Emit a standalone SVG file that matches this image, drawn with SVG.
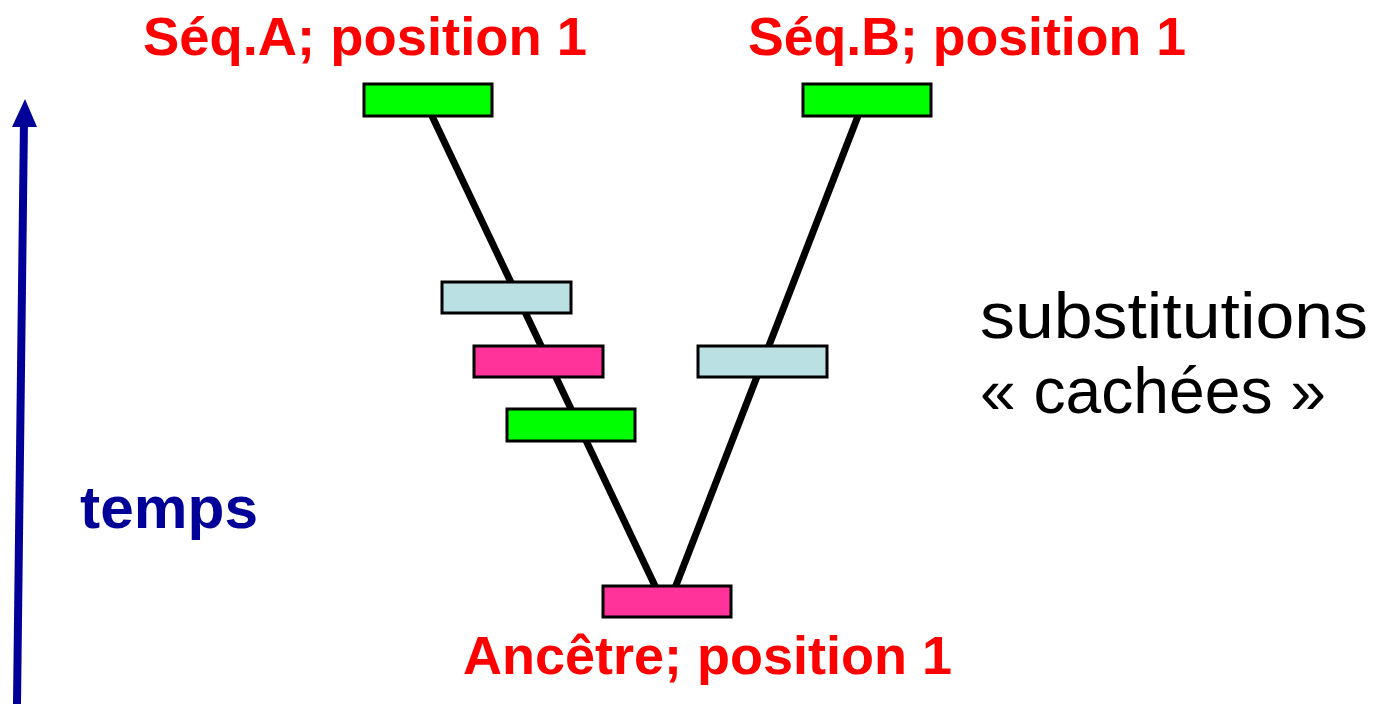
<svg xmlns="http://www.w3.org/2000/svg" width="1379" height="704" viewBox="0 0 1379 704">
<style>
.box{stroke:#000;stroke-width:3}
.g{fill:#00ff00}.b{fill:#bbe0e3}.p{fill:#ff3399}
.lbl{font-family:"Comic Sans MS","Liberation Sans",sans-serif;font-weight:bold;font-size:54px;fill:#ff0000}
.con{stroke:#000;stroke-width:7;fill:none}
</style>
<rect width="1379" height="704" fill="#fff"/>
<g id="connectors">
<line class="con" x1="432" y1="116" x2="656" y2="588"/>
<line class="con" x1="858" y1="116" x2="675" y2="588"/>
</g>
<g id="time-axis">
<line x1="17" y1="704" x2="24" y2="120" stroke="#000099" stroke-width="8"/>
<polygon points="25,99 12,127 37,127" fill="#000099"/>
<text x="80" y="528" font-family="'Comic Sans MS','Liberation Sans',sans-serif" font-weight="bold" font-size="60" fill="#000099" textLength="178" lengthAdjust="spacingAndGlyphs">temps</text>
</g>
<g id="seqA-pos1"><rect class="box g" x="364" y="84" width="128" height="32"/></g>
<g id="seqB-pos1"><rect class="box g" x="803" y="84" width="128" height="32"/></g>
<g id="subA1"><rect class="box b" x="442" y="282" width="129" height="31"/></g>
<g id="subA2"><rect class="box p" x="474" y="346" width="129" height="31"/></g>
<g id="subA3"><rect class="box g" x="507" y="409" width="128" height="32"/></g>
<g id="subB1"><rect class="box b" x="698" y="346" width="129" height="31"/></g>
<g id="ancestor"><rect class="box p" x="603" y="586" width="128" height="31"/></g>
<g id="labels">
<text class="lbl" x="143" y="55" textLength="444" lengthAdjust="spacingAndGlyphs">Séq.A; position 1</text>
<text class="lbl" x="748" y="55" textLength="438" lengthAdjust="spacingAndGlyphs">Séq.B; position 1</text>
<text class="lbl" x="463" y="674" textLength="489" lengthAdjust="spacingAndGlyphs">Ancêtre; position 1</text>
<text x="980" y="338" font-family="'Comic Sans MS','Liberation Sans',sans-serif" font-size="64" fill="#000" textLength="388" lengthAdjust="spacingAndGlyphs">substitutions</text>
<text x="980" y="413" font-family="'Comic Sans MS','Liberation Sans',sans-serif" font-size="64" fill="#000" textLength="346" lengthAdjust="spacingAndGlyphs">« cachées »</text>
</g>
</svg>
